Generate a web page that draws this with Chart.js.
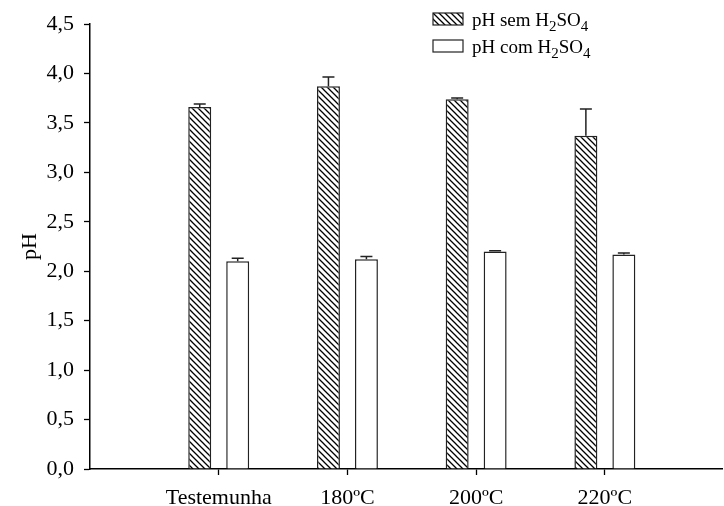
<!DOCTYPE html>
<html>
<head>
<meta charset="utf-8">
<script src="https://cdn.jsdelivr.net/npm/chart.js@4"></script>
<style>
  html, body { margin: 0; padding: 0; background: #fff; }
</style>
</head>
<body>
<canvas id="phChart" width="724" height="506"></canvas>
<script>
// --- values ---
const categories = ['Testemunha', '180ºC', '200ºC', '220ºC'];
const seriesLabels = ['pH sem H₂SO₄', 'pH com H₂SO₄'];
const phSem = [3.66, 3.87, 3.74, 3.37];
const phSemErr = [0.03, 0.095, 0.012, 0.27];
const phCom = [2.10, 2.12, 2.20, 2.17];
const phComErr = [0.03, 0.03, 0.008, 0.015];
const yTicks = [0, 0.5, 1, 1.5, 2, 2.5, 3, 3.5, 4, 4.5];

const SERIF = '"Liberation Serif", "Times New Roman", serif';
const FONT = { family: SERIF, size: 22 };

// diagonal hatch (\\\) for the first series
function makeHatch() {
    const size = 6;
    const c = document.createElement('canvas');
    c.width = size; c.height = size;
    const g = c.getContext('2d');
    g.fillStyle = '#fff';
    g.fillRect(0, 0, size, size);
    g.strokeStyle = '#000';
    g.lineWidth = 1.3;
    g.beginPath();
    g.moveTo(-1, -1); g.lineTo(size + 1, size + 1);
    g.moveTo(-1, size - 1); g.lineTo(1, size + 1);
    g.moveTo(size - 1, -1); g.lineTo(size + 1, 1);
    g.stroke();
    return g.createPattern(c, 'repeat');
}

// upper error bars only
const errorBars = {
    id: 'errorBars',
    afterDatasetsDraw(chart) {
        const { ctx, scales: { y } } = chart;
        const errs = [phSemErr, phComErr];
        ctx.save();
        ctx.strokeStyle = '#222';
        ctx.lineWidth = 1.5;
        chart.data.datasets.forEach((ds, di) => {
            chart.getDatasetMeta(di).data.forEach((bar, i) => {
                const top = y.getPixelForValue(ds.data[i].y + errs[di][i]);
                ctx.beginPath();
                ctx.moveTo(bar.x, bar.y);
                ctx.lineTo(bar.x, top);
                ctx.moveTo(bar.x - 6, top);
                ctx.lineTo(bar.x + 6, top);
                ctx.stroke();
            });
        });
        ctx.restore();
    }
};

// legend with real subscripts (₂ ₄ drawn smaller and lowered)
const subLegend = {
    id: 'subLegend',
    afterDraw(chart) {
        const ctx = chart.ctx;
        const boxX = 433, textX = 472, rowY = [19, 46];
        ctx.save();
        chart.data.datasets.forEach((ds, i) => {
            const cy = rowY[i];
            ctx.fillStyle = ds.backgroundColor;
            ctx.fillRect(boxX, cy - 6, 30, 12);
            ctx.strokeStyle = '#222';
            ctx.lineWidth = 1.2;
            ctx.strokeRect(boxX, cy - 6, 30, 12);

            ctx.fillStyle = '#000';
            ctx.textBaseline = 'alphabetic';
            let x = textX;
            for (const ch of ds.label) {
                const code = ch.charCodeAt(0);
                if (code >= 0x2080 && code <= 0x2089) {
                    const d = String(code - 0x2080);
                    ctx.font = `15px ${SERIF}`;
                    ctx.fillText(d, x, cy + 12);
                    x += ctx.measureText(d).width;
                } else {
                    ctx.font = `19px ${SERIF}`;
                    ctx.fillText(ch, x, cy + 7);
                    x += ctx.measureText(ch).width;
                }
            }
        });
        ctx.restore();
    }
};

const axisGrid = { display: true, offset: false, drawOnChartArea: false, drawTicks: true, tickLength: 6, color: '#000', tickColor: '#000', tickWidth: 1.3 };
const axisBorder = { display: true, color: '#000', width: 1.5 };

new Chart(document.getElementById('phChart'), {
    type: 'bar',
    data: {
        datasets: [
            {
                label: seriesLabels[0],
                data: phSem.map((v, i) => ({ x: i + 1, y: v })),
                backgroundColor: makeHatch(),
                borderColor: '#222',
                borderWidth: 1.5
            },
            {
                label: seriesLabels[1],
                data: phCom.map((v, i) => ({ x: i + 1, y: v })),
                backgroundColor: '#fff',
                borderColor: '#222',
                borderWidth: 1.5
            }
        ]
    },
    options: {
        responsive: false,
        animation: false,
        categoryPercentage: 0.59,
        barPercentage: 0.605,
        layout: { padding: { top: 24, right: 2, left: 0, bottom: 0 } },
        plugins: {
            legend: { display: false },
            tooltip: { enabled: false }
        },
        scales: {
            x: {
                type: 'linear',
                offset: false,
                min: 0,
                max: 4.91,
                afterBuildTicks: s => { s.ticks = categories.map((c, i) => ({ value: i + 1 })); },
                ticks: {
                    callback: v => categories[v - 1],
                    font: FONT, color: '#000', padding: 10,
                    autoSkip: false, maxRotation: 0
                },
                grid: axisGrid,
                border: axisBorder,
                afterFit: s => { s.height = 37; }
            },
            y: {
                min: 0,
                max: 4.5,
                afterBuildTicks: s => { s.ticks = yTicks.map(v => ({ value: v })); },
                ticks: {
                    callback: v => v.toFixed(1).replace('.', ','),
                    font: FONT, color: '#000', padding: 10
                },
                grid: axisGrid,
                border: axisBorder,
                title: { display: true, text: 'pH', font: FONT, color: '#000', padding: { top: 17, bottom: 0 } },
                afterFit: s => { s.width = 90; }
            }
        }
    },
    plugins: [errorBars, subLegend]
});
</script>
</body>
</html>
